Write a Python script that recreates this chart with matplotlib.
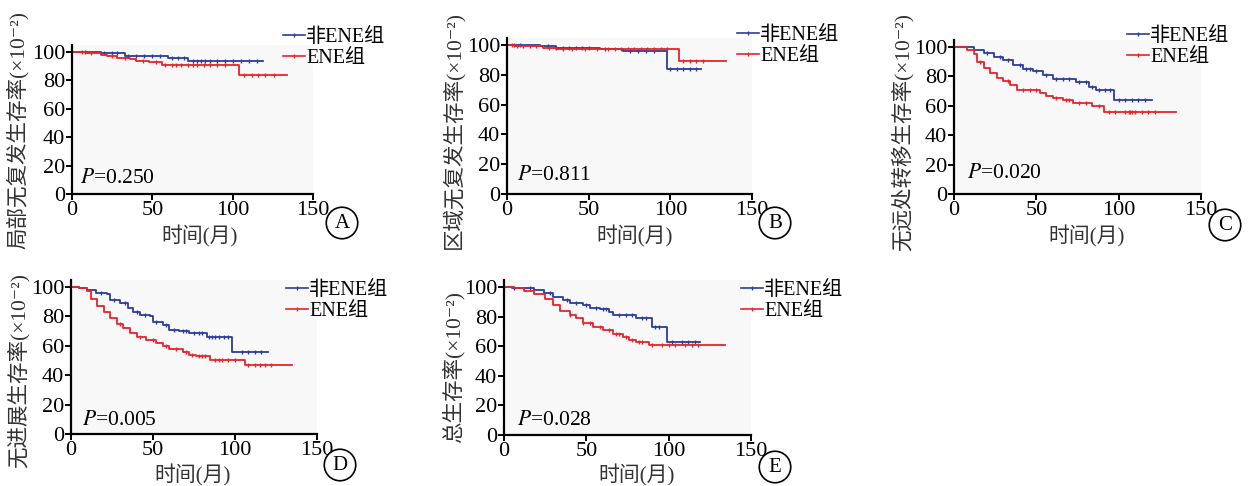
import numpy as np
import matplotlib.pyplot as plt
from matplotlib.lines import Line2D

W, H = 1256, 486
FONT = ['Liberation Serif', 'Noto Sans CJK SC', 'DejaVu Sans']
plt.rcParams['font.family'] = FONT
plt.rcParams['axes.unicode_minus'] = False

BLUE = '#2d3b9b'
RED = '#e8232b'

# ---- data (month, survival x10^-2) ----
a_non_t = [0, 18, 33, 60, 72, 119]
a_non_s = [100, 99, 97, 96, 94, 94]
a_ene_t = [0, 9, 18, 22, 28, 36, 40, 48, 56, 104, 134]
a_ene_s = [100, 99, 98, 97, 96, 95, 94, 93, 91, 84, 84]
a_non_c = [8, 20, 25, 28, 35, 40, 45, 50, 55, 62, 66, 70, 75, 78, 80, 83, 86, 90, 95, 100, 105, 110, 115]
a_ene_c = [6, 12, 25, 33, 44, 52, 58, 62, 65, 68, 72, 75, 78, 82, 86, 90, 95, 107, 112, 116, 120, 126]

b_non_t = [0, 20, 30, 57, 71, 98, 119]
b_non_s = [100, 99, 98, 97, 96, 84, 84]
b_ene_t = [0, 5, 22, 30, 105, 134]
b_ene_s = [100, 99.5, 98, 97, 89, 89]
b_non_c = [4, 8, 25, 30, 34, 38, 42, 46, 50, 60, 75, 80, 85, 90, 100, 104, 108, 112, 116]
b_ene_c = [3, 6, 10, 14, 18, 26, 34, 40, 48, 55, 62, 66, 70, 74, 78, 82, 86, 90, 94, 98, 108, 112, 116, 120]

c_non_t = [0, 12, 18, 24, 30, 36, 42, 48, 54, 60, 74, 82, 86, 97, 120]
c_non_s = [100, 98, 96, 93, 91, 88, 85, 84, 81, 78, 76, 73, 71, 64, 64]
c_ene_t = [0, 8, 12, 14, 18, 22, 26, 30, 34, 38, 52, 56, 60, 66, 72, 84, 91, 135]
c_ene_s = [100, 98, 95, 90, 86, 82, 79, 77, 74, 71, 69, 67, 65, 64, 62, 60, 56, 56]
c_non_c = [20, 28, 33, 40, 44, 46, 50, 56, 62, 66, 70, 76, 80, 84, 88, 92, 95, 100, 104, 108, 112, 116]
c_ene_c = [16, 33, 42, 46, 50, 62, 68, 70, 76, 80, 88, 94, 98, 104, 106, 107, 108, 110, 114, 118, 122]

d_non_t = [0, 5, 10, 15, 22, 24, 30, 35, 38, 42, 48, 50, 56, 60, 66, 72, 83, 98, 120]
d_non_s = [100, 99, 98, 96, 95, 91, 89, 86, 83, 81, 80, 76, 74, 71, 70, 69, 66, 56, 56]
d_ene_t = [0, 5, 10, 12, 16, 20, 24, 28, 32, 36, 40, 46, 52, 56, 60, 68, 72, 76, 85, 106, 135]
d_ene_s = [100, 99, 97, 92, 87, 83, 79, 75, 72, 69, 66, 64, 62, 60, 58, 56, 54, 53, 50.5, 47, 47]
d_non_c = [18, 26, 33, 40, 45, 52, 58, 63, 68, 70, 75, 78, 80, 84, 86, 88, 90, 93, 96, 104, 108, 112, 116]
d_ene_c = [30, 42, 50, 58, 64, 70, 74, 78, 80, 82, 88, 90, 92, 96, 100, 108, 112, 115, 118, 122]

e_non_t = [0, 5, 10, 18, 24, 30, 36, 40, 48, 52, 58, 64, 66, 80, 90, 99, 119]
e_non_s = [100, 99.5, 99, 98, 96, 93, 91, 89, 88, 86, 85, 83, 81, 79, 73, 63, 63]
e_ene_t = [0, 6, 12, 18, 25, 30, 34, 40, 44, 48, 54, 60, 66, 72, 76, 80, 88, 134]
e_ene_s = [100, 99, 97, 95, 92, 88, 84, 81, 79, 76, 73, 71, 68, 66, 64, 63, 61, 61]
e_non_c = [6, 16, 28, 38, 44, 50, 56, 60, 62, 70, 74, 78, 84, 86, 92, 94, 102, 108, 112, 116]
e_ene_c = [40, 48, 52, 58, 64, 68, 70, 74, 78, 82, 84, 90, 96, 100, 104, 110, 114, 118]

ylabels = ['局部无复发生存率(×10⁻²)', '区域无复发生存率(×10⁻²)', '无远处转移生存率(×10⁻²)',
           '无进展生存率(×10⁻²)', '总生存率(×10⁻²)']
pvalues = ['0.250', '0.811', '0.020', '0.005', '0.028']
letters = ['A', 'B', 'C', 'D', 'E']
legend_labels = ['非ENE组', 'ENE组']

panels = [
    (a_non_t, a_non_s, a_non_c, a_ene_t, a_ene_s, a_ene_c),
    (b_non_t, b_non_s, b_non_c, b_ene_t, b_ene_s, b_ene_c),
    (c_non_t, c_non_s, c_non_c, c_ene_t, c_ene_s, c_ene_c),
    (d_non_t, d_non_s, d_non_c, d_ene_t, d_ene_s, d_ene_c),
    (e_non_t, e_non_s, e_non_c, e_ene_t, e_ene_s, e_ene_c),
]

# ---- layout in pixels: x0, x150, y0, y100 ----
boxes = [(72, 313, 194, 52), (507, 752, 194, 45), (954, 1201, 194, 47),
         (71, 317, 434, 287), (504, 751, 435, 287)]
ylab_pos = [(18, 130), (453, 130), (902, 132), (18, 370), (453, 367)]
xlab_pos = [(200, 236), (635, 236), (1087, 236), (193, 475), (637, 475)]
circ_pos = [(342, 223), (775, 223), (1225, 225), (340, 465), (775, 467)]
leg_pos = [(283, 28), (737, 26), (1127, 27), (286, 281), (741, 281)]
p_pos = [(5, 11), (6, 12.5), (8, 14), (7, 9.5), (8, 10)]


def km_at(t, s, c):
    idx = np.searchsorted(t, c, side='right') - 1
    return np.asarray(s)[idx]


fig = plt.figure(figsize=(W / 100, H / 100), dpi=100)

for i, (nt, ns, nc, et, es, ec) in enumerate(panels):
    x0, x150, y0, y100 = boxes[i]
    ppu = (y0 - y100) / 100.0
    top = y100 - 5 * ppu
    ax = fig.add_axes([x0 / W, 1 - y0 / H, (x150 - x0) / W, (y0 - top) / H])
    ax.set_facecolor('#f8f8f8')
    for sp in ['top', 'right']:
        ax.spines[sp].set_visible(False)
    for sp in ['left', 'bottom']:
        ax.spines[sp].set_linewidth(1.6)

    ax.step(nt, ns, where='post', color=BLUE, lw=1.3)
    ax.plot(nc, km_at(nt, ns, nc), ls='none', marker='|', ms=3.5, mew=1, color=BLUE)
    ax.step(et, es, where='post', color=RED, lw=1.3)
    ax.plot(ec, km_at(et, es, ec), ls='none', marker='|', ms=3.5, mew=1, color=RED)

    ax.set_xlim(0, 150)
    ax.set_ylim(0, 105)
    ax.set_xticks([0, 50, 100, 150])
    ax.set_yticks([0, 20, 40, 60, 80, 100])
    ax.tick_params(direction='out', length=4, width=1.4, labelsize=16, pad=1)

    px, py = p_pos[i]
    ax.text(px, py, '$P$=' + pvalues[i], fontsize=15.5, va='center', ha='left',
            family=FONT, math_fontfamily='stix')

    handles = [Line2D([0], [0], color=BLUE, lw=1.2, marker='|', ms=3.5),
               Line2D([0], [0], color=RED, lw=1.2, marker='|', ms=3.5)]
    lx, ly = leg_pos[i]
    ax.legend(handles, legend_labels, loc='upper left', bbox_to_anchor=(lx / W, 1 - ly / H),
              bbox_transform=fig.transFigure, frameon=False, handlelength=1.1,
              handletextpad=0.05, labelspacing=0.1, borderpad=0, borderaxespad=0,
              prop={'family': FONT, 'size': 14.5})

    yx, yy = ylab_pos[i]
    fig.text(yx / W, 1 - yy / H, ylabels[i], rotation=90, ha='center', va='center',
             fontsize=15.5, color='#333333')
    xx, xy = xlab_pos[i]
    fig.text(xx / W, 1 - xy / H, '时间(月)', ha='center', va='center', fontsize=15,
             color='#333333')
    cx, cy = circ_pos[i]
    fig.text(cx / W, 1 - cy / H, letters[i], ha='center', va='center', fontsize=15,
             bbox=dict(boxstyle='circle,pad=0.3', fc='white', ec='black', lw=1.2))

fig.savefig('out.png', dpi=100)
